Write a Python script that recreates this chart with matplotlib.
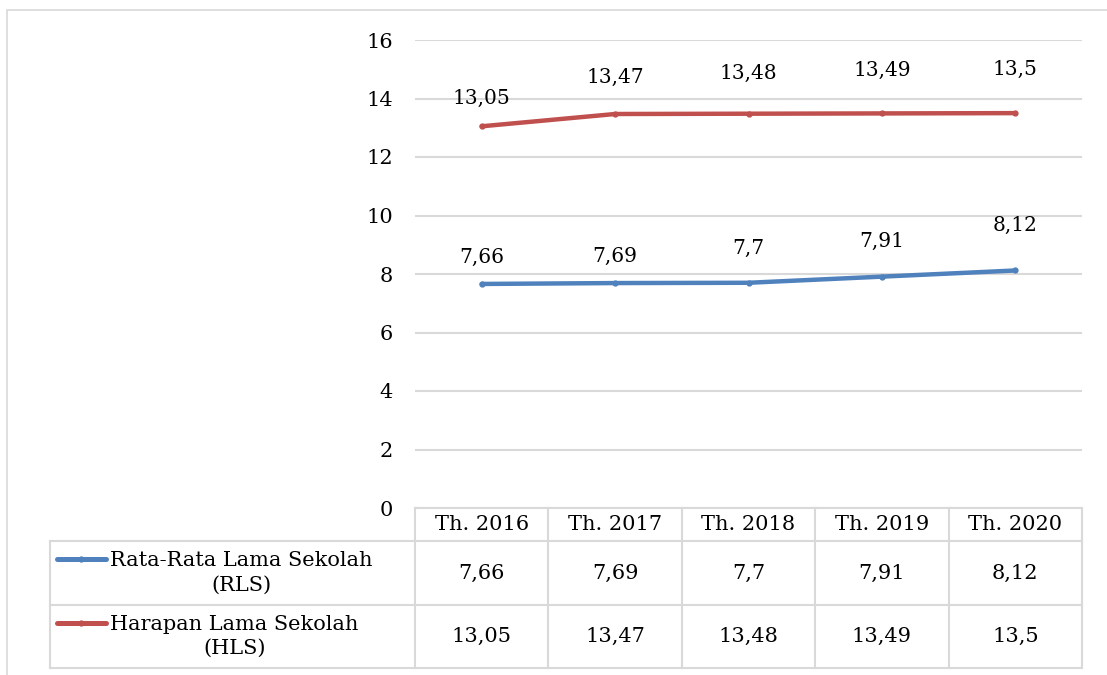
#!/usr/bin/env python3
"""RLS / HLS line chart with an Excel-style data table underneath."""
import matplotlib

matplotlib.use("Agg")
import matplotlib.pyplot as plt
from matplotlib.lines import Line2D
from matplotlib.patches import Rectangle
from matplotlib.transforms import blended_transform_factory

years = ["Th. 2016", "Th. 2017", "Th. 2018", "Th. 2019", "Th. 2020"]
rls = [7.66, 7.69, 7.7, 7.91, 8.12]
hls = [13.05, 13.47, 13.48, 13.49, 13.5]
rls_name = "Rata-Rata Lama Sekolah\n(RLS)"
hls_name = "Harapan Lama Sekolah\n(HLS)"
y_ticks = [0, 2, 4, 6, 8, 10, 12, 14, 16]

# labels were nudged by hand in the original: lift above each point, px
rls_lift = [27, 27, 34, 35, 45]
hls_lift = [28, 37, 40, 43, 44]

BLUE = "#4f81bd"
RED = "#c0504d"
GRID = "#d9d9d9"
FONT = "DejaVu Serif"

W, H = 1107, 675
fig = plt.figure(figsize=(W / 100, H / 100), dpi=100)


def fx(px):
    return px / W


def fy(py):
    return 1 - py / H


# outer chart frame
fig.add_artist(Rectangle((fx(7), fy(700)), fx(1120), (700 - 10) / H,
                         transform=fig.transFigure, fill=False,
                         edgecolor=GRID, linewidth=1.2))

PLOT_L, PLOT_R, PLOT_T, PLOT_B = 415, 1082, 40, 508
ax = fig.add_axes([fx(PLOT_L), fy(PLOT_B), (PLOT_R - PLOT_L) / W, (PLOT_B - PLOT_T) / H])
ax.set_xlim(-0.5, len(years) - 0.5)
ax.set_ylim(0, 16)
ax.set_yticks(y_ticks)
ax.set_yticklabels([str(t) for t in y_ticks], fontsize=15, family=FONT)
ax.tick_params(axis="y", length=0, pad=16)
ax.set_xticks([])
ax.grid(axis="y", color=GRID, linewidth=1.5)
ax.set_axisbelow(True)
for s in ax.spines.values():
    s.set_visible(False)

x = list(range(len(years)))


def fmt(v):
    return f"{v:g}".replace(".", ",")


for vals, lifts, color in [(rls, rls_lift, BLUE), (hls, hls_lift, RED)]:
    ax.plot(x, vals, color=color, linewidth=3.2, marker="o", markersize=3.5,
            solid_capstyle="round", clip_on=False)
    for i, v in enumerate(vals):
        ax.annotate(fmt(v), (i, v), xytext=(0, lifts[i] * 0.72),
                    textcoords="offset points", ha="center", va="center",
                    fontsize=14.5, family=FONT)

# data table
tr = blended_transform_factory(ax.transData, fig.transFigure)
TAB_L = 50
ROW_Y = [508, 541, 605, 668]


def hline(x0, x1, y, transform):
    fig.add_artist(Line2D([x0, x1], [fy(y), fy(y)], transform=transform,
                          color=GRID, linewidth=1.5))


def vline(xv, y0, y1, transform):
    fig.add_artist(Line2D([xv, xv], [fy(y0), fy(y1)], transform=transform,
                          color=GRID, linewidth=1.5))


hline(-0.5, len(years) - 0.5, ROW_Y[0], tr)
for y in ROW_Y[1:]:
    hline(fx(TAB_L), fx(PLOT_R), y, fig.transFigure)
for i in range(len(years) + 1):
    vline(i - 0.5, ROW_Y[0], ROW_Y[-1], tr)
vline(fx(TAB_L), ROW_Y[1], ROW_Y[-1], fig.transFigure)

for i, yr in enumerate(years):
    fig.text(i, fy((ROW_Y[0] + ROW_Y[1]) / 2), yr, transform=tr,
             ha="center", va="center", fontsize=15, family=FONT)

rows = [(rls, rls_name, BLUE), (hls, hls_name, RED)]
for r, (vals, name, color) in enumerate(rows):
    y0, y1 = ROW_Y[r + 1], ROW_Y[r + 2]
    yc = fy((y0 + y1) / 2)
    for i, v in enumerate(vals):
        fig.text(i, yc, fmt(v), transform=tr, ha="center", va="center",
                 fontsize=15, family=FONT)
    # legend key
    ky = fy(y0 + 18)
    fig.add_artist(Line2D([fx(57), fx(106)], [ky, ky], transform=fig.transFigure,
                          color=color, linewidth=3.6, solid_capstyle="round"))
    fig.add_artist(Line2D([fx(81)], [ky], transform=fig.transFigure, color=color,
                          marker="o", markersize=3.5))
    fig.text(fx(110), yc, name, ha="left", va="center", multialignment="center",
             fontsize=15, family=FONT, linespacing=1.35)

fig.savefig("out.png", dpi=100)
